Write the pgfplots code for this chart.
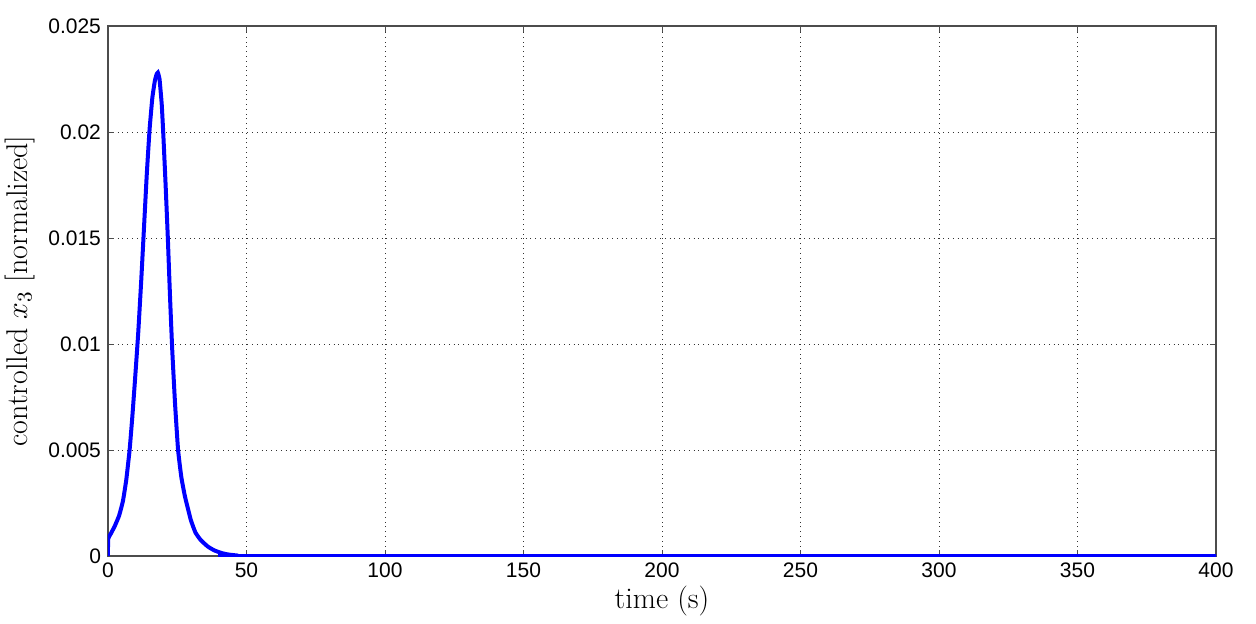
\documentclass[border=0pt]{standalone}
\usepackage{fix-cm}
\usepackage{fontspec}
\setsansfont{Liberation Sans}
\usepackage{pgfplots}
\pgfplotsset{compat=1.18}

\begin{document}
\begin{tikzpicture}
  \begin{axis}[
    scale only axis,
    width=554pt, height=265pt,
    xmin=0, xmax=400, ymin=0, ymax=0.025,
    xtick={0,50,...,400},
    ytick={0,0.005,0.01,0.015,0.02,0.025},
    scaled y ticks=false,
    yticklabel style={/pgf/number format/fixed, /pgf/number format/precision=3},
    /pgf/number format/assume math mode=true,
    tick label style={font=\sffamily\fontsize{10.5}{12}\selectfont},
    tick align=inside, major tick length=3pt,
    xtick pos=both, ytick pos=both,
    grid=major,
    major grid style={black!80, dotted, line width=0.5pt},
    axis line style={black!70, line width=0.6pt},
    tick style={black!70},
    xlabel={time (s)},
    ylabel={controlled $x_3$ [normalized]},
    label style={font=\fontsize{15}{18}\selectfont},
    xlabel style={yshift=3pt},
    ylabel style={yshift=0pt},
  ]
    \addplot[color=blue, line width=2pt, smooth, tension=0.25] coordinates {
      (0,0) (0.05,0.0008) (1,0.00105) (2.4,0.0014) (4,0.0019) (5.4,0.0026)
      (6.6,0.0036) (7.8,0.0050) (8.8,0.0066) (9.8,0.0084) (10.9,0.0105)
      (12.0,0.0130) (13.0,0.0155) (14.0,0.0180) (15.0,0.0201) (16.0,0.0216)
      (16.9,0.0224) (17.5,0.0227) (18.0,0.0228) (18.6,0.0225) (19.4,0.0213)
      (20.0,0.0198) (20.8,0.0175) (21.6,0.0150) (22.4,0.0122) (23.2,0.0097)
      (24.2,0.0072) (25.3,0.0050) (26.5,0.0037) (27.8,0.0028) (29.9,0.0017)
      (31.6,0.0011) (33.5,0.00075) (36,0.00045) (38.3,0.00027) (41,0.00014)
      (43.5,0.00007) (47,0.00002) (52,0) (400,0)
    };
  \end{axis}
  \pgfresetboundingbox
  \path[use as bounding box] ([shift={(-54pt,-33.5pt)}]current axis.south west)
    rectangle ([shift={(20pt,13pt)}]current axis.north east);
\end{tikzpicture}
\end{document}
